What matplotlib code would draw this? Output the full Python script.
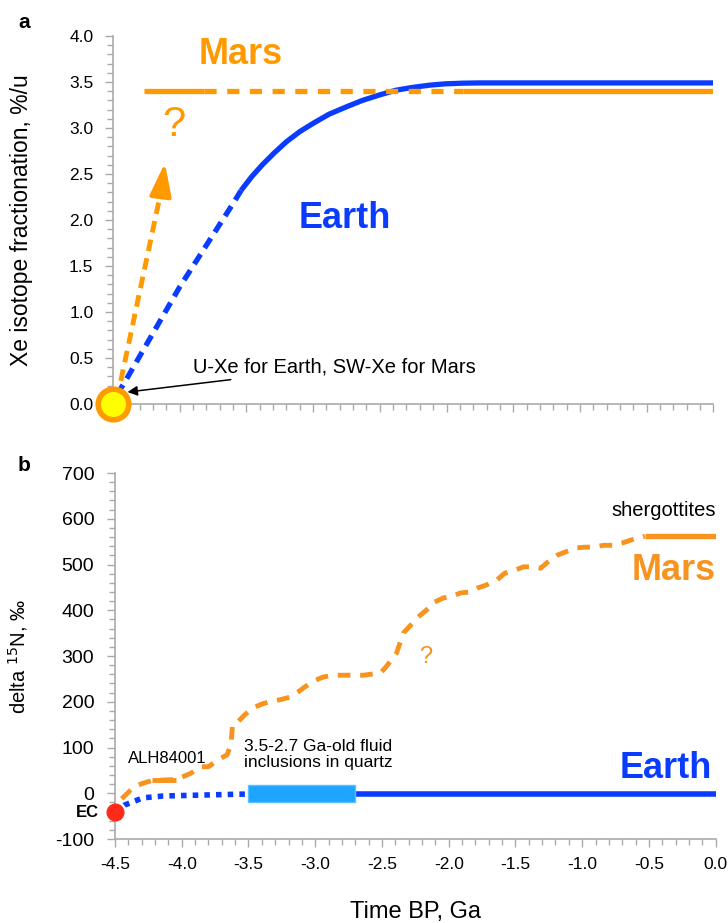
import matplotlib
matplotlib.use('Agg')
from matplotlib import pyplot as plt
from matplotlib.ticker import MultipleLocator, FormatStrFormatter

plt.rcParams['font.family'] = ['Liberation Sans', 'DejaVu Sans']
plt.rcParams['axes.unicode_minus'] = False

orange = '#FF9900'
orange2 = '#F7931E'
blue = '#0A3CFF'
lightblue = '#1EA5FF'
gray = '#AAAAAA'

# panel a: Xe isotope fractionation
xe_earth_dash_x = [-4.47, -4.41, -4.0, -3.59, -3.54]
xe_earth_dash_y = [0.10, 0.24, 1.27, 2.20, 2.32]
xe_earth_x = [-3.54, -3.46, -3.38, -3.29, -3.20, -3.10, -3.0, -2.88, -2.75, -2.63, -2.50,
              -2.38, -2.26, -2.13, -2.01, -1.88, -1.76, -1.5, 0.0]
xe_earth_y = [2.32, 2.47, 2.60, 2.73, 2.85, 2.96, 3.05, 3.15, 3.23, 3.30, 3.36,
              3.41, 3.44, 3.465, 3.48, 3.487, 3.49, 3.49, 3.49]
xe_mars_level = 3.40
xe_mars_solid1 = [-4.27, -3.82]
xe_mars_dash = [-3.82, -1.88]
xe_mars_solid2 = [-1.88, 0.0]
xe_arrow_start = (-4.47, 0.05)
xe_arrow_end = (-4.11, 2.62)

# panel b: delta 15N
n_earth_dot_x = [-4.5, -4.43, -4.29, -4.14, -3.86, -3.57, -3.5]
n_earth_dot_y = [-42, -26, -10, -6, -4, -2, -2]
n_box_x = [-3.5, -2.7]
n_box_low, n_box_high = -20, 17
n_earth_x = [-2.7, 0.0]
n_earth_y = [-2, -2]
n_mars_x = [-4.45, -4.40, -4.36, -4.29, -4.22, -4.04, -3.93, -3.86, -3.80, -3.73, -3.66,
            -3.63, -3.62, -3.60, -3.53, -3.47, -3.40, -3.34, -3.27, -3.19, -3.13, -3.08,
            -3.0, -2.94, -2.87, -2.64, -2.51, -2.47, -2.39, -2.34, -2.27, -2.23, -2.14,
            -2.12, -2.04, -1.98, -1.91, -1.84, -1.78, -1.72, -1.64, -1.58, -1.50, -1.44,
            -1.37, -1.31, -1.24, -1.19, -1.13, -1.05, -0.98, -0.92, -0.84, -0.77, -0.70,
            -0.64, -0.56, -0.53]
n_mars_y = [-12, 2, 14, 22, 28, 30, 44, 58, 58, 73, 84,
            109, 149, 150, 171, 186, 195, 200, 204, 210, 221, 232,
            247, 254, 258, 258, 263, 276, 307, 350, 372, 385, 407,
            416, 427, 430, 438, 440, 449, 455, 466, 481, 488, 495,
            495, 492, 510, 520, 527, 536, 538, 538, 542, 542, 547,
            553, 560, 562]
n_alh_x = [-4.22, -4.04]
n_alh_y = [29, 29]
n_sherg_x = [-0.53, 0.0]
n_sherg_y = [562, 562]
n_ec = (-4.5, -42)

fig = plt.figure(figsize=(7.28, 9.23), dpi=100)
ax1 = fig.add_axes([0.155, 0.5623, 0.825, 0.3987])
ax2 = fig.add_axes([0.158, 0.0910, 0.825, 0.3965])


def style(ax):
    for s in ['top', 'right']:
        ax.spines[s].set_visible(False)
    for s in ['left', 'bottom']:
        ax.spines[s].set_color(gray)
        ax.spines[s].set_linewidth(1.2)
    ax.tick_params(which='both', direction='out', color=gray)
    ax.tick_params(which='major', length=6, width=1)
    ax.tick_params(which='minor', length=4, width=1)


# ---- panel a ----
style(ax1)
ax1.set_xlim(-4.5, 0)
ax1.set_ylim(0, 4)
ax1.xaxis.set_major_locator(MultipleLocator(0.5))
ax1.xaxis.set_minor_locator(MultipleLocator(0.1))
ax1.yaxis.set_major_locator(MultipleLocator(0.5))
ax1.yaxis.set_minor_locator(MultipleLocator(0.1))
ax1.set_xticklabels([])
ax1.yaxis.set_major_formatter(FormatStrFormatter('%.1f'))
ax1.tick_params(axis='y', labelsize=12.5, pad=8)

ax1.plot(xe_earth_dash_x, xe_earth_dash_y, color=blue, lw=3.8, dashes=(2.2, 1.4))
ax1.plot(xe_earth_x, xe_earth_y, color=blue, lw=3.8, solid_capstyle='butt')
ax1.plot(xe_mars_solid1, [xe_mars_level] * 2, color=orange, lw=3.8, solid_capstyle='butt')
ax1.plot(xe_mars_dash, [xe_mars_level] * 2, color=orange, lw=3.8, dashes=(2.3, 2.0))
ax1.plot(xe_mars_solid2, [xe_mars_level] * 2, color=orange, lw=3.8, solid_capstyle='butt')

# dashed arrow for Mars
ax1.plot([xe_arrow_start[0], -4.132], [xe_arrow_start[1], 2.36], color=orange, lw=3.5, dashes=(2.4, 1.5))
ax1.annotate('', xy=xe_arrow_end, xytext=(-4.133, 2.36),
             arrowprops=dict(arrowstyle='-|>,head_length=1.0,head_width=0.33', color=orange,
                             lw=3.0, mutation_scale=20, shrinkA=0, shrinkB=0))

ax1.plot([-4.5], [0], 'o', ms=22, mfc='#FFFF00', mec=orange, mew=4, clip_on=False, zorder=10)

ax1.text(-4.04, 3.03, '?', color=orange, fontsize=30, ha='center', va='center')
ax1.text(-3.54, 3.80, 'Mars', color=orange, fontsize=26, fontweight='bold', ha='center', va='center')
ax1.text(-2.76, 2.02, 'Earth', color=blue, fontsize=26, fontweight='bold', ha='center', va='center')
ax1.annotate('U-Xe for Earth, SW-Xe for Mars', xy=(-4.39, 0.13), xytext=(-3.90, 0.40),
             fontsize=14.5, ha='left', va='center',
             arrowprops=dict(arrowstyle='-|>', color='black', lw=1.1, shrinkA=1, shrinkB=0))

ax1.set_ylabel('Xe isotope fractionation, %/u', fontsize=16.5)
ax1.yaxis.set_label_coords(-0.133, 0.5)

# ---- panel b ----
style(ax2)
ax2.set_xlim(-4.5, 0)
ax2.set_ylim(-100, 700)
ax2.xaxis.set_major_locator(MultipleLocator(0.5))
ax2.xaxis.set_minor_locator(MultipleLocator(0.1))
ax2.yaxis.set_major_locator(MultipleLocator(100))
ax2.yaxis.set_minor_locator(MultipleLocator(20))
ax2.xaxis.set_major_formatter(FormatStrFormatter('%.1f'))
ax2.tick_params(axis='y', labelsize=14, pad=9)
ax2.tick_params(axis='x', labelsize=12.5, pad=7)

ax2.plot(n_earth_dot_x, n_earth_dot_y, color=blue, lw=4, dashes=(1, 1.1))
ax2.fill_between(n_box_x, n_box_low, n_box_high, color=lightblue, ec='#5BC0FF', lw=1, zorder=3)
ax2.plot(n_earth_x, n_earth_y, color=blue, lw=4, solid_capstyle='butt')
ax2.plot(n_mars_x, n_mars_y, color=orange2, lw=3.5, dashes=(2.6, 2.0))
ax2.plot(n_alh_x, n_alh_y, color=orange2, lw=3.5, solid_capstyle='butt')
ax2.plot(n_sherg_x, n_sherg_y, color=orange2, lw=3.8, solid_capstyle='butt')
ax2.plot([n_ec[0]], [n_ec[1]], 'o', ms=12, color='#FF2A1A', clip_on=False, zorder=10)

ax2.text(-4.62, -42, 'EC', fontsize=12, fontweight='bold', ha='right', va='center')
ax2.text(-4.40, 77, 'ALH84001', fontsize=12, ha='left', va='center')
ax2.text(-3.53, 85, '3.5-2.7 Ga-old fluid\ninclusions in quartz', fontsize=12.5,
         ha='left', va='center', linespacing=1.1)
ax2.text(-2.17, 298, '?', color=orange2, fontsize=17, ha='center', va='center')
ax2.text(0.0, 619, 'shergottites', fontsize=14.5, ha='right', va='center')
ax2.text(0.0, 488, 'Mars', color=orange2, fontsize=26, fontweight='bold', ha='right', va='center')
ax2.text(-0.03, 55, 'Earth', color=blue, fontsize=26, fontweight='bold', ha='right', va='center')

ax2.set_ylabel('delta $^{15}$N, ‰', fontsize=14.5)
ax2.yaxis.set_label_coords(-0.142, 0.5)
ax2.set_xlabel('Time BP, Ga', fontsize=17)
ax2.xaxis.set_label_coords(0.5, -0.17)

fig.text(0.033, 0.976, 'a', fontsize=15, fontweight='bold', ha='center', va='center')
fig.text(0.033, 0.496, 'b', fontsize=15, fontweight='bold', ha='center', va='center')

plt.savefig('out.png', dpi=100)
